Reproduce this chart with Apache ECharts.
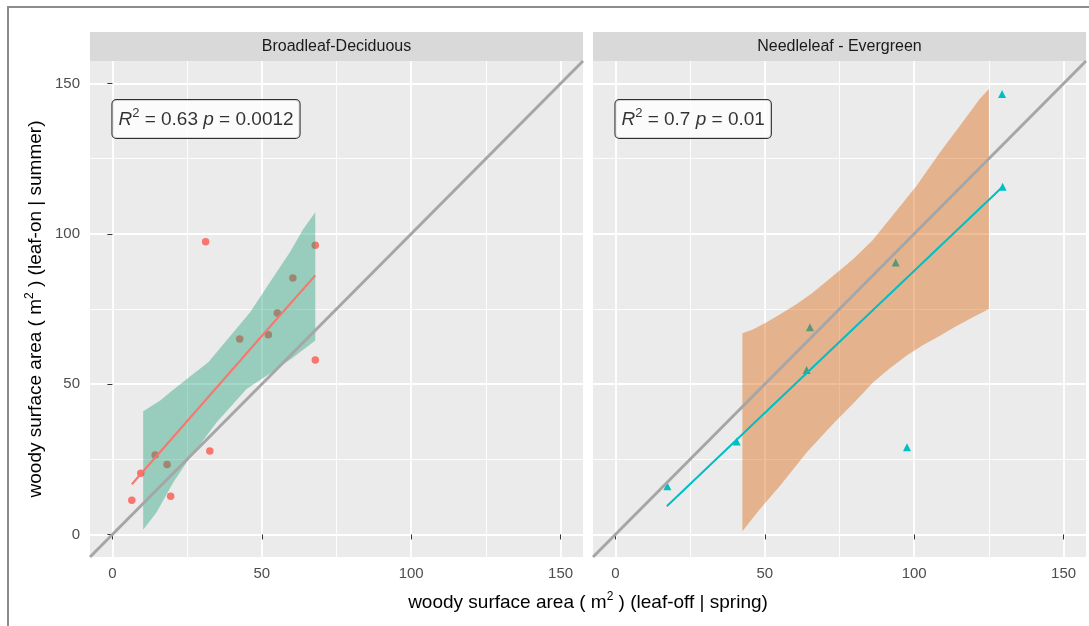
<!DOCTYPE html>
<html><head><meta charset="utf-8">
<script src="https://cdn.jsdelivr.net/npm/echarts@6.0.0/dist/echarts.min.js"></script>
<style>html,body{margin:0;padding:0;background:#fff}#chart{width:1089px;height:626px}</style>
</head><body><div id="chart"></div>
<script>
// ---------- data ----------
const panels = ['Broadleaf-Deciduous', 'Needleleaf - Evergreen'];
const axisLimits = [-7.5, 157.5];
const majorTicks = [0, 50, 100, 150];
const minorTicks = [25, 75, 125];

// Broadleaf-Deciduous points
const bdX = [31.2, 67.9, 60.4, 55.2, 42.6, 52.2, 67.9, 32.6, 14.3, 18.3, 9.5, 6.5, 19.5];
const bdY = [97.4, 96.2, 85.3, 73.7, 65.0, 66.4, 58.0, 27.8, 26.4, 23.3, 20.4, 11.4, 12.7];
// Needleleaf - Evergreen points
const neX = [129.4, 129.6, 93.8, 65.1, 64.0, 40.6, 17.4, 97.6];
const neY = [146.5, 115.7, 90.5, 68.9, 54.7, 30.9, 16.0, 29.0];

// fitted lines
const bdFitX = [6.5, 50.5, 67.9];
const bdFitY = [16.7, 66.6, 86.2];
const neFitX = [17.2, 49.0, 129.6];
const neFitY = [9.4, 39.5, 115.7];

// ribbons (upper / lower edges)
const bdUpX = [10.3, 15.9, 19.3, 24.9, 32.1, 46.1, 50.5, 59.4, 63.9, 67.9];
const bdUpY = [41.0, 44.5, 47.3, 51.7, 57.3, 73.9, 80.6, 93.9, 101.6, 107.2];
const bdLoX = [10.3, 14.8, 20.4, 24.9, 34.9, 44.9, 51.6, 60.0, 67.9];
const bdLoY = [1.6, 7.4, 17.4, 24.0, 37.3, 48.4, 52.8, 58.5, 64.5];
const neUpX = [42.5, 46.0, 50.6, 55.0, 60.7, 66.0, 72.0, 79.6, 86.0, 91.9, 100.8, 108.6, 115.3, 121.9, 125.0];
const neUpY = [66.9, 68.2, 70.6, 73.2, 76.7, 80.4, 85.3, 91.6, 97.8, 105.0, 116.0, 127.1, 136.0, 144.9, 148.2];
const neLoX = [42.5, 48.4, 55.1, 64.0, 72.9, 80.0, 86.3, 92.0, 97.5, 103.0, 108.6, 114.0, 119.8, 125.0];
const neLoY = [1.1, 8.5, 16.2, 27.3, 36.8, 44.0, 50.6, 55.4, 59.5, 63.0, 66.1, 69.3, 72.3, 75.0];

// statistics labels
const labelAnchor = [0, 138.2];
const r2Values = ['0.63', '0.7'];
const pValues = ['0.0012', '0.01'];

// ---------- layout / style ----------
const FONT = 'Liberation Sans, Arial, sans-serif';
const gridTop = 61, gridH = 496, gridW = 493;
const gridLefts = [90, 593];
const stripH = 29;
const pointColors = ['#F8766D', '#00BFC4'];
const ribbonColors = ['#1B9E77', '#D95F02'];
const symbols = ['circle', 'triangle'];

const zip = (xs, ys) => xs.map((x, i) => [x, ys[i]]);
const pointsData = [zip(bdX, bdY), zip(neX, neY)];
const fitData = [zip(bdFitX, bdFitY), zip(neFitX, neFitY)];
const ribbonPoly = [
  zip(bdUpX, bdUpY).concat(zip(bdLoX, bdLoY).reverse()),
  zip(neUpX, neUpY).concat(zip(neLoX, neLoY).reverse())
];
const identity = axisLimits.map(v => [v, v]);

const grids = [], xAxes = [], yAxes = [], series = [], graphics = [];

gridLefts.forEach((left, i) => {
  grids.push({left: left, top: gridTop, width: gridW, height: gridH, show: true,
    backgroundColor: '#EBEBEB', borderWidth: 0, containLabel: false});
  xAxes.push({type: 'value', gridIndex: i, min: axisLimits[0], max: axisLimits[1],
    axisLine: {show: false},
    axisTick: {show: true, length: 5, customValues: majorTicks, lineStyle: {color: '#333333', width: 1}},
    axisLabel: {show: true, customValues: majorTicks, color: '#4D4D4D', fontSize: 15, fontFamily: FONT, margin: 9},
    splitLine: {show: true, lineStyle: {color: '#FFFFFF', width: 1.8}}, z: 0});
  yAxes.push({type: 'value', gridIndex: i, min: axisLimits[0], max: axisLimits[1],
    axisLine: {show: false},
    axisTick: {show: i === 0, length: 5, customValues: majorTicks, lineStyle: {color: '#333333', width: 1}},
    axisLabel: {show: i === 0, customValues: majorTicks, color: '#4D4D4D', fontSize: 15, fontFamily: FONT, margin: 10},
    splitLine: {show: true, lineStyle: {color: '#FFFFFF', width: 1.8}}, z: 0});
});
gridLefts.forEach((left, i) => {
  xAxes.push({type: 'value', gridIndex: i, min: axisLimits[0], max: axisLimits[1],
    axisLine: {show: false}, axisTick: {show: false, customValues: minorTicks},
    axisLabel: {show: false, customValues: minorTicks},
    splitLine: {show: true, lineStyle: {color: '#FFFFFF', width: 0.9}}, z: 0});
  yAxes.push({type: 'value', gridIndex: i, min: axisLimits[0], max: axisLimits[1],
    axisLine: {show: false}, axisTick: {show: false, customValues: minorTicks},
    axisLabel: {show: false, customValues: minorTicks},
    splitLine: {show: true, lineStyle: {color: '#FFFFFF', width: 0.9}}, z: 0});
});

for (let i = 0; i < 2; i++) {
  series.push({type: 'scatter', xAxisIndex: i, yAxisIndex: i, data: pointsData[i],
    symbol: symbols[i], symbolSize: i === 0 ? 7.5 : 8, itemStyle: {color: pointColors[i], opacity: 1},
    z: 2, silent: true});
  const poly = ribbonPoly[i];
  const fill = ribbonColors[i];
  series.push({type: 'custom', xAxisIndex: i, yAxisIndex: i, data: [poly[0]], z: 3, silent: true,
    renderItem: function (params, api) {
      return {type: 'polygon', shape: {points: poly.map(p => api.coord(p))},
        style: {fill: fill, opacity: 0.4}};
    }});
  series.push({type: 'line', xAxisIndex: i, yAxisIndex: i, data: fitData[i], symbol: 'none',
    lineStyle: {color: pointColors[i], width: 2}, z: 4, silent: true});
  series.push({type: 'line', xAxisIndex: i, yAxisIndex: i, data: identity, symbol: 'none',
    lineStyle: {color: '#A6A6A6', width: 3}, z: 5, silent: true});
  series.push({type: 'scatter', xAxisIndex: i, yAxisIndex: i, data: [labelAnchor], symbolSize: 0,
    z: 6, silent: true,
    label: {show: true, position: 'right', distance: 0,
      formatter: '{i|R}{s|2}{n| = ' + r2Values[i] + ' }{i|p}{n| = ' + pValues[i] + '}',
      backgroundColor: '#FFFFFF', borderColor: '#000000', borderWidth: 1, borderRadius: 4,
      padding: [7, 6, 6, 6],
      rich: {
        i: {fontStyle: 'italic', fontSize: 19, fontFamily: FONT, color: '#000', lineHeight: 25},
        n: {fontSize: 19, fontFamily: FONT, color: '#000', lineHeight: 25},
        s: {fontSize: 13, fontFamily: FONT, color: '#000', lineHeight: 13, verticalAlign: 'top'}
      }}});
  graphics.push({type: 'rect', left: gridLefts[i], top: gridTop - stripH, silent: true,
    shape: {width: gridW, height: stripH}, style: {fill: '#D9D9D9'}});
  graphics.push({type: 'text', x: gridLefts[i] + gridW / 2, y: gridTop - stripH / 2, silent: true,
    style: {text: panels[i], font: '16px ' + FONT, fill: '#1A1A1A', align: 'center', verticalAlign: 'middle'}});
}

const titleRich = {
  n: {fontSize: 19, fontFamily: FONT, color: '#000', lineHeight: 24},
  s: {fontSize: 12, fontFamily: FONT, color: '#000', lineHeight: 12, verticalAlign: 'top'}
};
graphics.push({type: 'text', x: (gridLefts[0] + gridLefts[1] + gridW) / 2, y: 603, silent: true,
  style: {text: '{n|woody surface area ( m}{s|2}{n| ) (leaf-off | spring)}', rich: titleRich,
    align: 'center', verticalAlign: 'middle'}});
graphics.push({type: 'text', x: 36, y: gridTop + gridH / 2, rotation: Math.PI / 2, silent: true,
  style: {text: '{n|woody surface area ( m}{s|2}{n| ) (leaf-on | summer)}', rich: titleRich,
    align: 'center', verticalAlign: 'middle'}});
graphics.push({type: 'rect', silent: true, shape: {x: 8, y: 7, width: 1200, height: 800},
  style: {fill: 'none', stroke: '#8C8C8C', lineWidth: 2}});

const chart = echarts.init(document.getElementById('chart'), null, {renderer: 'canvas'});
chart.setOption({
  animation: false,
  backgroundColor: '#FFFFFF',
  grid: grids, xAxis: xAxes, yAxis: yAxes, series: series, graphic: graphics
});
</script></body></html>
